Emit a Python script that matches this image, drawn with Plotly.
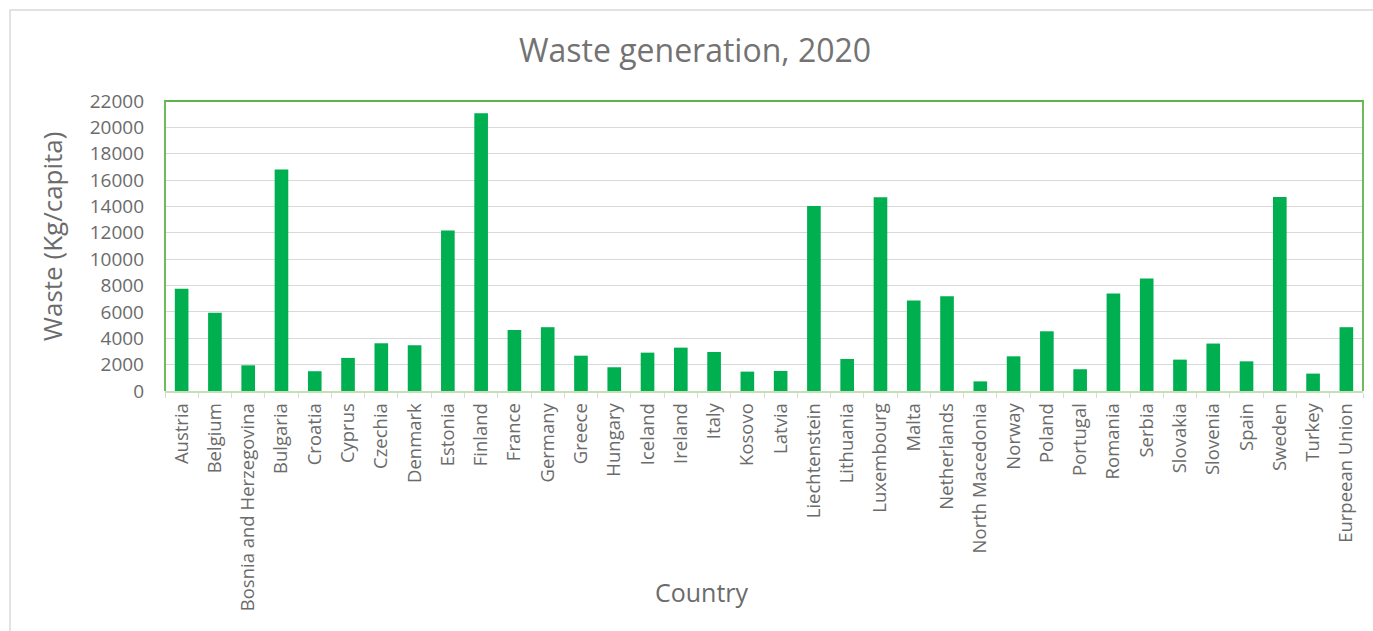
import plotly.graph_objects as go

countries = ["Austria", "Belgium", "Bosnia and Herzegovina", "Bulgaria", "Croatia", "Cyprus",
             "Czechia", "Denmark", "Estonia", "Finland", "France", "Germany", "Greece", "Hungary",
             "Iceland", "Ireland", "Italy", "Kosovo", "Latvia", "Liechtenstein", "Lithuania",
             "Luxembourg", "Malta", "Netherlands", "North Macedonia", "Norway", "Poland",
             "Portugal", "Romania", "Serbia", "Slovakia", "Slovenia", "Spain", "Sweden",
             "Turkey", "Eurpeean Union"]
waste = [7750, 5930, 1950, 16810, 1500, 2510, 3620, 3470, 12180, 21070, 4630, 4840, 2680,
         1800, 2910, 3290, 2960, 1470, 1520, 14030, 2430, 14690, 6860, 7190, 730, 2630,
         4530, 1650, 7390, 8530, 2380, 3600, 2250, 14710, 1320, 4840]
y_ticks = list(range(0, 22001, 2000))
y_tick_text = [str(v) for v in y_ticks]

W, H = 1373, 631
L, R, T, B = 165, 10, 101, 240
pw, ph = W - L - R, H - T - B

def px_x(x):
    return (x - L) / pw

def px_y(y):
    return (H - B - y) / ph

font_fam = "Open Sans, DejaVu Sans, sans-serif"
txt = "#6b6b6b"

fig = go.Figure(go.Bar(x=countries, y=waste, marker=dict(color="#00B050", line=dict(width=0))))

fig.update_layout(
    width=W, height=H,
    margin=dict(l=L, r=R, t=T, b=B),
    paper_bgcolor="white", plot_bgcolor="white",
    bargap=0.59,
    showlegend=False,
    font=dict(family=font_fam, color=txt),
    title=dict(text="Waste generation, 2020", x=695 / W, xanchor="center",
               y=1 - 51 / H, yanchor="middle", font=dict(size=32, color="#737373", family=font_fam)),
    xaxis=dict(type="category", tickangle=-90, tickfont=dict(size=18.5, color=txt),
               showline=True, linecolor="#C5E0B4", linewidth=1.5,
               ticks="outside", ticklen=5, tickcolor="#D9D9D9", tickwidth=1.2,
               tickson="boundaries", showgrid=False, fixedrange=True, ticklabelstandoff=3),
    yaxis=dict(range=[0, 22000], tickvals=y_ticks, ticktext=y_tick_text,
               tickfont=dict(size=19, color=txt),
               showgrid=True, gridcolor="#D9D9D9", gridwidth=1.3, zeroline=False,
               showline=False, ticks="", ticklabelstandoff=20, fixedrange=True),
    shapes=[
        dict(type="rect", xref="paper", yref="paper",
             x0=px_x(10), x1=px_x(W + 20), y0=px_y(H + 20), y1=px_y(10),
             line=dict(color="#D9D9D9", width=1.5), fillcolor="rgba(0,0,0,0)", layer="below"),
        dict(type="path", xref="paper", yref="paper",
             path="M 0,0 L 0,1 L 1,1 L 1,0",
             line=dict(color="#5DB54A", width=1.8), layer="above"),
    ],
    annotations=[
        dict(text="Waste (Kg/capita)", xref="paper", yref="paper", x=px_x(52), y=px_y(237),
             xanchor="center", yanchor="middle", textangle=-90, showarrow=False,
             font=dict(size=26, color=txt, family=font_fam)),
        dict(text="Country", xref="paper", yref="paper", x=px_x(702), y=px_y(592),
             xanchor="center", yanchor="middle", showarrow=False,
             font=dict(size=25, color=txt, family=font_fam)),
    ],
)

fig.write_html("out.html", config={"displayModeBar": False},
               post_script="document.body.style.margin='0';document.body.style.overflow='hidden';")
